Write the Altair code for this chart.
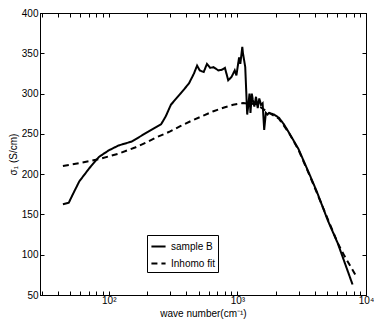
import altair as alt
import pandas as pd

# sample B (solid)
sample_x = [44.0, 48.9, 52.5, 59.0, 70.4, 83.9, 100, 119.2, 150.6, 202,
            255, 278, 304, 363, 420, 459, 486, 510, 547, 580, 614,
            652, 712, 755, 800, 849, 900, 954, 983, 1031, 1054,
            1092, 1105, 1151, 1171, 1192, 1221, 1242, 1264, 1295, 1318,
            1355, 1396, 1439, 1480, 1525, 1571, 1616, 1665, 1716, 1765,
            1926, 2103, 2296, 2507, 2990, 3564, 4130, 5065, 6038, 7861]
sample_y = [162.7, 164.6, 174.8, 191, 207.1, 221.4, 229.5, 235.6, 240.4, 252.6,
            261.8, 272, 286.1, 300.4, 312.5, 324.7, 334.7, 328.7, 326.7, 336.8, 331.9,
            332.8, 328.7, 329.5, 331.9, 316.5, 320.6, 328.7, 322.6, 344.9, 336.8,
            358, 350, 333, 304, 274, 288, 300, 276, 300, 292,
            284, 296, 282, 294, 286, 288, 255, 276, 274, 276,
            274, 270, 262, 252, 231, 203, 179, 142, 114, 63]

# Inhomo fit (dashed)
fit_x = [44, 60, 84, 119, 160, 202, 241, 300, 363, 450, 550, 652, 800, 927,
         1105, 1396, 1665, 2103, 2507, 2990, 3564, 4130, 5065, 6038, 6792, 8241]
fit_y = [210.1, 214, 218.6, 225.4, 233, 240.4, 246.5, 253, 259.9, 267, 273, 278.1, 283, 286.1,
         288.2, 287, 278.5, 268.8, 251.7, 229.9, 201.9, 177.6, 143.6, 114.4, 98.6, 75.5]

series_names = ["sample B", "Inhomo fit"]

x_ticks = [30, 40, 50, 60, 70, 80, 90,
           100, 200, 300, 400, 500, 600, 700, 800, 900,
           1000, 2000, 3000, 4000, 5000, 6000, 7000, 8000, 9000, 10000]
y_ticks = [50, 100, 150, 200, 250, 300, 350, 400]

df = pd.concat([
    pd.DataFrame({"x": sample_x, "y": sample_y, "series": series_names[0]}),
    pd.DataFrame({"x": fit_x, "y": fit_y, "series": series_names[1]}),
], ignore_index=True)

x_scale = alt.Scale(type="log", domain=[29.2, 10000], nice=False)
y_scale = alt.Scale(domain=[50, 400], nice=False, zero=False)

label_expr = ("datum.value == 100 ? '10\u00b2' : datum.value == 1000 ? '10\u00b3' : "
              "datum.value == 10000 ? '10\u2074' : ''")

inward = alt.ExprRef(expr="-4")

base = alt.Chart(df)

lines = base.mark_line(strokeWidth=2, color="black", clip=True).encode(
    x=alt.X("x:Q", scale=x_scale,
            axis=alt.Axis(values=x_ticks, labelExpr=label_expr, title="wave number(cm\u207b\u00b9)",
                          tickSize=inward, labelPadding=4, grid=False,
                          titleY=23, titleBaseline="bottom", labelFlush=False)),
    y=alt.Y("y:Q", scale=y_scale,
            axis=alt.Axis(values=y_ticks, title="\u03c3\u2081 (S/cm)", tickSize=inward,
                          labelPadding=6, grid=False, titleX=-27, titleBaseline="middle",
                          titleAngle=270)),
    strokeDash=alt.StrokeDash("series:N",
                              scale=alt.Scale(domain=series_names, range=[[1, 0], [6, 4]]),
                              legend=alt.Legend(title=None, orient="none", legendX=107, legendY=222,
                                                strokeColor="black", fillColor="white", padding=3,
                                                symbolType="stroke", symbolStrokeWidth=2,
                                                symbolStrokeColor="black", symbolSize=200,
                                                labelFontSize=10, labelFont="Liberation Sans",
                                                labelColor="black", rowPadding=3)),
)

frame = base.mark_line(opacity=0).encode(
    x=alt.X("x:Q", scale=x_scale,
            axis=alt.Axis(orient="top", values=x_ticks, labels=False, title="",
                          tickSize=inward, grid=False)),
    y=alt.Y("y:Q", scale=y_scale,
            axis=alt.Axis(orient="right", values=y_ticks, labels=False, title="",
                          tickSize=inward, grid=False)),
)

chart = alt.layer(lines, frame).resolve_axis(
    x="independent", y="independent"
).properties(
    width=326, height=282,
    autosize=alt.AutoSizeParams(type="none"),
    padding={"left": 32, "top": 5, "right": 8, "bottom": 24},
).configure_view(
    stroke="black", strokeWidth=1
).configure_axis(
    domainColor="black", tickColor="black", labelColor="black", titleColor="black",
    labelFont="Liberation Sans", titleFont="Liberation Sans",
    labelFontSize=10, titleFontSize=10, titleFontWeight="normal"
)

chart.save("out.html", embed_options={"renderer": "svg", "actions": False})
